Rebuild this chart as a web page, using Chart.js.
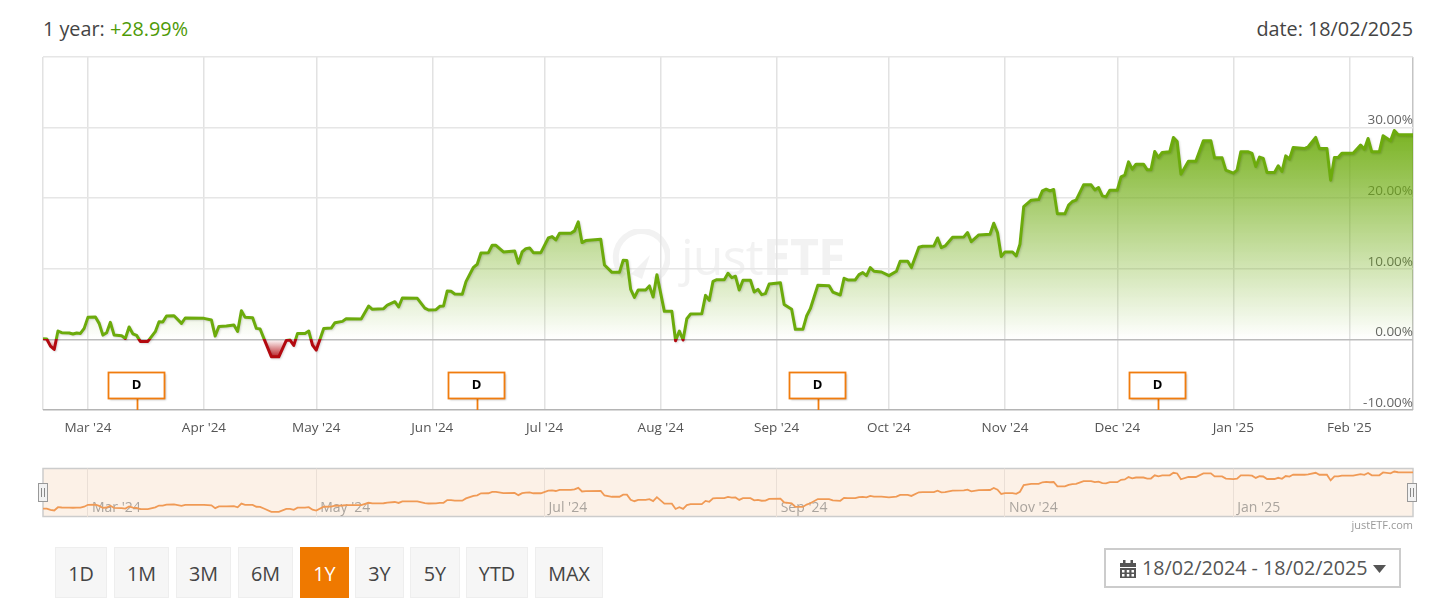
<!DOCTYPE html>
<html>
<head>
<meta charset="utf-8">
<title>justETF 1 year chart</title>
<script src="https://cdn.jsdelivr.net/npm/chart.js@4"></script>
<style>
html, body { margin: 0; background: #fff; width: 1440px; height: 615px; overflow: hidden; font-family: "Open Sans", sans-serif; color: #444; }
.abs { position: absolute; }
#title { left: 43px; top: 15px; font-size: 19.8px; line-height: 28px; }
#title b { font-weight: 400; color: #4e9a06; }
#date { right: 27px; top: 15px; font-size: 19.8px; line-height: 28px; }
#watermark { left: 612px; top: 226px; height: 62px; color: #f2f2f2; font-size: 50px; line-height: 62px; white-space: nowrap; }
#watermark svg { position: absolute; left: 0; top: 3px; }
#watermark span { position: absolute; left: 69px; top: -1px; letter-spacing: -0.8px; }
#watermark b { font-weight: 700; }
canvas { position: absolute; }
#main { left: 0; top: 0; }
#nav { left: 0; top: 460px; }
.handle { width: 8px; height: 17px; top: 483px; background: #f2f2f2; border: 1px solid #999; box-sizing: content-box; }
.handle::after { content: ""; position: absolute; left: 2px; top: 4px; width: 2px; height: 9px; border-left: 1px solid #888; border-right: 1px solid #888; }
#credit { right: 27px; top: 517px; font-size: 11px; line-height: 16px; color: #999; }
.btn { top: 547px; height: 51px; line-height: 51px; box-sizing: border-box; text-align: center; font-size: 19.8px; color: #444; background: #f6f6f6; border: 1px solid #eee; }
.btn.on { background: #ef7900; border-color: #ef7900; color: #fff; }
#range { left: 1104px; top: 548px; width: 297px; height: 40px; box-sizing: border-box; border: 2px solid #ccc; font-size: 19.7px; line-height: 40px; color: #555; white-space: nowrap; }
#range svg { position: absolute; }
#range span { position: absolute; left: 36px; top: -2px; }
</style>
</head>
<body>
<div id="title" class="abs">1 year: <b>+28.99%</b></div>
<div id="date" class="abs">date: 18/02/2025</div>

<div id="watermark" class="abs">
    <svg width="58" height="58" viewBox="0 0 58 58"><path d="M12 47 A26 26 0 1 1 42 51" fill="none" stroke="#f2f2f2" stroke-width="6"/><path d="M19 45 L38 26 L30 50 Z" fill="#f2f2f2"/></svg>
    <span>just<b>ETF</b></span>
</div>

<canvas id="main" width="1440" height="440"></canvas>
<canvas id="nav" width="1440" height="60"></canvas>

<div class="abs handle" style="left:38px"></div>
<div class="abs handle" style="left:1407px"></div>
<div id="credit" class="abs">justETF.com</div>

<div class="abs btn" style="left:55px;width:52px">1D</div>
<div class="abs btn" style="left:114px;width:55px">1M</div>
<div class="abs btn" style="left:176px;width:55px">3M</div>
<div class="abs btn" style="left:238px;width:55px">6M</div>
<div class="abs btn on" style="left:300px;width:49px">1Y</div>
<div class="abs btn" style="left:355px;width:49px">3Y</div>
<div class="abs btn" style="left:410px;width:50px">5Y</div>
<div class="abs btn" style="left:466px;width:62px">YTD</div>
<div class="abs btn" style="left:535px;width:68px">MAX</div>

<div id="range" class="abs">
    <svg style="left:13px;top:10px" width="18" height="18" viewBox="0 0 18 18" fill="#555"><path d="M1 3h16v4H1zM4 0h2.500v4H4zM11.500 0H14v4h-2.500zM1 8h16v10H1z"/><path d="M3 10h2.500v2.500H3zM7.800 10h2.500v2.500H7.800zM12.500 10H15v2.500h-2.500zM3 14h2.500v2.500H3zM7.800 14h2.500v2.500H7.800zM12.500 14H15v2.500h-2.500z" fill="#fff"/></svg>
    <span>18/02/2024 - 18/02/2025</span>
    <svg style="left:267px;top:15px" width="13" height="8" viewBox="0 0 13 8" fill="#555"><path d="M0 0h13L6.500 8z"/></svg>
</div>

<script>
// days since 18/02/2024 at each turn of the line
const days = [
    0, 1, 2, 3, 4, 5, 7, 8, 9, 10, 11, 12, 14, 15, 16, 17, 18, 19, 21, 22, 23, 24, 25, 26, 28,
    30, 31, 32, 33, 35, 37, 38, 43, 45, 46, 47, 49, 51, 52, 53, 54, 56, 57, 58, 59, 61, 63, 65, 66, 67,
    68, 70, 71, 72, 73, 75, 77, 78, 80, 81, 85, 87, 88, 91, 92, 94, 95, 96, 100, 102, 103, 105, 106, 107, 108,
    109, 110, 112, 113, 115, 116, 117, 119, 120, 121, 123, 126, 127, 128, 129, 130, 131, 133, 135, 136, 137, 138, 141, 142, 143,
    144, 145, 149, 150, 152, 154, 155, 156, 157, 158, 159, 161, 162, 163, 164, 166, 168, 169, 170, 171, 172, 173, 176, 177, 178,
    179, 180, 182, 183, 184, 185, 186, 187, 189, 190, 191, 192, 193, 194, 197, 198, 200, 201, 203, 204, 205, 207, 210, 211, 213,
    214, 215, 217, 218, 219, 220, 221, 222, 224, 226, 228, 229, 231, 232, 234, 235, 238, 239, 240, 241, 243, 246, 247, 248, 250,
    253, 254, 255, 256, 257, 259, 260, 261, 262, 264, 266, 267, 268, 269, 270, 271, 273, 274, 275, 276, 278, 280, 281, 282, 283,
    284, 285, 287, 288, 289, 290, 291, 292, 294, 295, 296, 297, 298, 299, 301, 302, 303, 304, 306, 308, 310, 312, 313, 315, 316,
    318, 319, 320, 322, 323, 324, 325, 326, 327, 329, 330, 331, 332, 333, 334, 337, 338, 340, 341, 343, 344, 345, 346, 347, 350,
    352, 353, 354, 355, 357, 358, 360, 361, 362, 366
]
const returns = [
    0.09, 0.05, -0.95, -1.42, 1.18, 0.95, 0.90, 0.76, 0.90, 0.85, 1.56, 3.12, 3.17, 2.27, 0.61, 0.95, 2.41, 0.61, 0.52, 0.14, 1.75, 0.80, 0.57, -0.28, -0.28,
    1.09, 2.51, 2.46, 3.31, 3.36, 2.27, 3.03, 2.98, 2.74, 0.47, 1.84, 1.89, 2.03, 1.13, 4.07, 3.12, 3.07, 1.56, 1.47, 0.14, -2.46, -2.46, -0.14, -0.09, -0.85,
    0.85, 0.85, 1.18, -0.80, -1.51, 1.56, 1.61, 2.36, 2.55, 2.93, 2.88, 4.73, 4.26, 4.35, 4.87, 5.34, 4.59, 5.86, 5.82, 4.44, 4.16, 4.21, 4.68, 4.73, 6.86,
    6.81, 6.43, 6.38, 8.18, 10.21, 10.64, 12.25, 12.29, 13.33, 13.33, 12.39, 12.53, 10.78, 12.39, 12.86, 12.96, 12.29, 12.29, 14.37, 14.56, 14.09, 15.04, 15.04, 15.37, 16.64,
    13.71, 14.00, 14.18, 10.54, 9.50, 9.50, 11.21, 11.16, 7.09, 5.96, 7.00, 7.00, 7.57, 6.00, 9.17, 3.97, 3.97, -0.19, 1.18, -0.09, 2.93, 3.59, 3.64, 6.24, 5.53,
    8.23, 8.46, 8.46, 9.36, 8.75, 8.94, 7.00, 8.37, 8.37, 6.71, 7.09, 6.34, 6.48, 7.85, 8.04, 4.96, 4.26, 1.42, 1.42, 3.31, 4.35, 7.66, 7.61, 6.71, 6.29,
    8.65, 8.42, 8.42, 9.17, 9.46, 9.03, 10.17, 9.65, 9.55, 9.03, 9.65, 11.06, 11.06, 10.17, 13.05, 13.19, 13.24, 14.37, 13.00, 13.24, 14.47, 14.52, 15.13, 13.85, 14.80,
    14.89, 16.45, 15.13, 11.73, 12.39, 12.39, 11.82, 13.48, 18.82, 19.72, 19.81, 21.04, 21.28, 21.04, 21.23, 17.78, 17.78, 19.01, 19.53, 19.72, 21.89, 21.89, 21.18, 21.51, 20.33,
    20.19, 21.13, 21.13, 23.03, 23.26, 25.15, 24.11, 24.82, 24.82, 24.02, 24.02, 26.62, 25.77, 26.48, 26.57, 28.61, 28.04, 23.40, 25.25, 25.25, 28.13, 28.13, 25.72, 25.72, 23.97,
    23.55, 23.97, 26.57, 26.57, 26.34, 24.49, 25.82, 25.63, 23.64, 23.64, 24.59, 23.78, 26.00, 25.53, 27.19, 27.04, 27.28, 28.61, 27.04, 27.04, 22.55, 25.77, 25.77, 26.38, 26.38,
    27.52, 26.95, 28.46, 26.57, 26.57, 28.84, 28.13, 29.60, 29.03, 28.99
]

const lastDay = 366
const monthDays = [12, 43, 73, 104, 134, 165, 196, 226, 257, 287, 318, 349]
const monthLabels = ["Mar '24", "Apr '24", "May '24", "Jun '24", "Jul '24", "Aug '24", "Sep '24", "Oct '24", "Nov '24", "Dec '24", "Jan '25", "Feb '25"]
const navDays = [12, 73, 134, 196, 257, 318]
const navLabels = ["Mar '24", "May '24", "Jul '24", "Sep '24", "Nov '24", "Jan '25"]
const dividendDays = [25, 116, 207, 298]
const dividendLabel = "D"

const points = days.map((d, i) => ({ x: d, y: returns[i] }))
const font = "'Open Sans', sans-serif"

const fixedTicks = list => scale => {
    scale.ticks = [0, ...list, lastDay].map(value => ({ value }))
}

// green above the zero line, red below it, hard switch at zero
function lineColor({ chart }) {
    const area = chart.chartArea
    if (!area) return "#6cab0c"
    const y0 = chart.scales.y.getPixelForValue(0)
    const stop = (y0 - area.top) / (area.bottom - area.top)
    const g = chart.ctx.createLinearGradient(0, area.top, 0, area.bottom)
    g.addColorStop(0, "#6cab0c")
    g.addColorStop(stop, "#6cab0c")
    g.addColorStop(stop, "#b3090f")
    g.addColorStop(1, "#b3090f")
    return g
}

function areaColor({ chart }) {
    const area = chart.chartArea
    if (!area) return "transparent"
    const y = chart.scales.y
    const top = y.getPixelForValue(30), y0 = y.getPixelForValue(0), low = y.getPixelForValue(-2.5)
    const span = low - top
    const g = chart.ctx.createLinearGradient(0, top, 0, low)
    g.addColorStop(0, "rgba(108,171,12,0.92)")
    g.addColorStop((y0 - top) / span, "rgba(108,171,12,0)")
    g.addColorStop((y0 - top) / span, "rgba(179,9,15,0)")
    g.addColorStop(1, "rgba(179,9,15,0.9)")
    return g
}

const lineShadow = {
    id: "lineShadow",
    beforeDatasetDraw(chart) {
        const { ctx } = chart
        ctx.save()
        ctx.shadowColor = "rgba(0,0,0,0.15)"
        ctx.shadowOffsetX = 1
        ctx.shadowOffsetY = 1
        ctx.shadowBlur = 2
    },
    afterDatasetDraw(chart) {
        chart.ctx.restore()
    }
}

const dividendFlags = {
    id: "dividendFlags",
    afterDatasetsDraw(chart) {
        const { ctx, scales: { x }, chartArea: { bottom } } = chart
        dividendDays.forEach(day => {
            const px = Math.round(x.getPixelForValue(day))
            ctx.save()
            ctx.strokeStyle = "#f07c0e"
            ctx.lineWidth = 1.8
            ctx.beginPath()
            ctx.moveTo(px + 0.5, bottom - 11)
            ctx.lineTo(px + 0.5, bottom)
            ctx.stroke()
            ctx.shadowColor = "rgba(0,0,0,0.25)"
            ctx.shadowOffsetX = 1
            ctx.shadowOffsetY = 1
            ctx.shadowBlur = 2
            ctx.fillStyle = "#fff"
            ctx.fillRect(px - 28.5, bottom - 37.5, 56, 26)
            ctx.shadowColor = "transparent"
            ctx.strokeRect(px - 28.5, bottom - 37.5, 56, 26)
            ctx.fillStyle = "#000"
            ctx.font = "bold 13px " + font
            ctx.textAlign = "center"
            ctx.textBaseline = "middle"
            ctx.fillText(dividendLabel, px - 0.5, bottom - 25)
            ctx.restore()
        })
    }
}

new Chart(document.getElementById("main"), {
    type: "line",
    data: {
        datasets: [{
            data: points,
            borderColor: lineColor,
            backgroundColor: areaColor,
            borderWidth: 3,
            pointRadius: 0,
            tension: 0,
            fill: "origin",
            borderJoinStyle: "round"
        }]
    },
    plugins: [lineShadow, dividendFlags],
    options: {
        responsive: false,
        animation: false,
        events: [],
        layout: { padding: { left: 43, right: 27, top: 57, bottom: 0 } },
        plugins: { legend: { display: false }, tooltip: { enabled: false } },
        scales: {
            x: {
                type: "linear",
                min: 0,
                max: lastDay,
                afterBuildTicks: fixedTicks(monthDays),
                afterFit: s => { s.height = 30 },
                border: { display: false },
                grid: {
                    drawTicks: false,
                    lineWidth: 1.5,
                    color: c => c.tick && c.tick.value === lastDay ? "#c4c4c4" : "#e2e2e2"
                },
                ticks: {
                    autoSkip: false,
                    maxRotation: 0,
                    padding: 10,
                    color: "#555",
                    font: { family: font, size: 13.5 },
                    callback: v => monthLabels[monthDays.indexOf(v)] || ""
                }
            },
            y: {
                position: "right",
                min: -10,
                max: 40,
                afterFit: s => { s.width = 0 },
                border: { display: false },
                grid: {
                    drawTicks: false,
                    lineWidth: 1.5,
                    color: c => c.tick.value === 0 ? "#bbb" : c.tick.value === -10 ? "#b4b4b4" : "#e6e6e6"
                },
                ticks: {
                    stepSize: 10,
                    mirror: true,
                    padding: 0,
                    labelOffset: -7,
                    color: "#666",
                    font: { family: font, size: 13.5 },
                    callback: v => v === 40 ? "" : v.toFixed(2) + "%"
                }
            }
        }
    }
})

new Chart(document.getElementById("nav"), {
    type: "line",
    data: {
        datasets: [{
            data: points,
            borderColor: "#f09a55",
            borderWidth: 1.8,
            pointRadius: 0,
            tension: 0,
            fill: false
        }]
    },
    plugins: [{
        id: "navBackground",
        beforeDraw({ ctx, chartArea: a }) {
            ctx.save()
            ctx.fillStyle = "#fcf1e7"
            ctx.fillRect(a.left, a.top, a.right - a.left, a.bottom - a.top)
            ctx.strokeStyle = "#ccc"
            ctx.lineWidth = 1.5
            ctx.strokeRect(a.left, a.top, a.right - a.left, a.bottom - a.top)
            ctx.restore()
        }
    }],
    options: {
        responsive: false,
        animation: false,
        events: [],
        layout: { padding: { left: 43, right: 27, top: 8.5, bottom: 3.5 } },
        plugins: { legend: { display: false }, tooltip: { enabled: false } },
        scales: {
            x: {
                type: "linear",
                min: 0,
                max: lastDay,
                afterBuildTicks: s => { s.ticks = navDays.map(value => ({ value })) },
                afterFit: s => { s.height = 0 },
                border: { display: false },
                grid: { drawTicks: false, lineWidth: 1, color: "#eadfd6" },
                ticks: {
                    autoSkip: false,
                    maxRotation: 0,
                    align: "start",
                    mirror: true,
                    labelOffset: 4,
                    padding: 0,
                    color: "#aaa49e",
                    font: { family: font, size: 14 },
                    callback: v => navLabels[navDays.indexOf(v)] || ""
                }
            },
            y: { display: false, min: -6.2, max: 32 }
        }
    }
})
</script>
</body>
</html>
